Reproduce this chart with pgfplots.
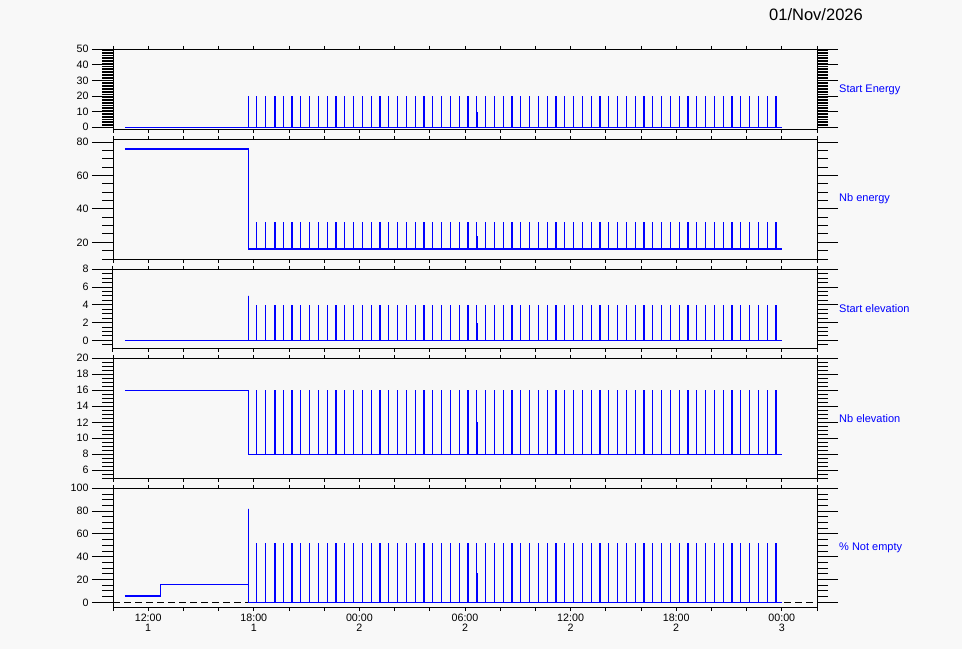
\documentclass[border=0pt]{standalone}
\usepackage{pgfplots}
\pgfplotsset{compat=1.18}
\usepackage{pgfplotstable}
\usepackage{fontspec}
\setmainfont{Liberation Sans}
\definecolor{bg}{HTML}{F8F8F8}

% spikes: time in hours from 00:00 day 1, tops of each panel
\pgfplotstableread{
t     p1 p2 p3 p4 p5
18.17 20 32 4 16 52
18.67 20 32 4 16 52
19.17 20 32 4 16 52
19.22 20 32 4 16 52
19.67 20 32 4 16 52
20.17 20 32 4 16 52
20.67 20 32 4 16 52
21.17 20 32 4 16 52
21.67 20 32 4 16 52
22.17 20 32 4 16 52
22.67 20 32 4 16 52
23.17 20 32 4 16 52
23.67 20 32 4 16 52
24.17 20 32 4 16 52
24.67 20 32 4 16 52
25.17 20 32 4 16 52
25.67 20 32 4 16 52
26.17 20 32 4 16 52
26.67 20 32 4 16 52
27.17 20 32 4 16 52
27.67 20 32 4 16 52
28.17 20 32 4 16 52
28.67 20 32 4 16 52
29.17 20 32 4 16 52
29.67 20 32 4 16 52
30.17 20 32 4 16 52
30.67 20 32 4 16 52
30.72 10 24 2 12 26
31.17 20 32 4 16 52
31.67 20 32 4 16 52
32.17 20 32 4 16 52
32.67 20 32 4 16 52
33.17 20 32 4 16 52
33.67 20 32 4 16 52
34.17 20 32 4 16 52
34.67 20 32 4 16 52
35.17 20 32 4 16 52
35.67 20 32 4 16 52
36.17 20 32 4 16 52
36.67 20 32 4 16 52
37.17 20 32 4 16 52
37.67 20 32 4 16 52
38.17 20 32 4 16 52
38.67 20 32 4 16 52
39.17 20 32 4 16 52
39.67 20 32 4 16 52
40.17 20 32 4 16 52
40.67 20 32 4 16 52
41.17 20 32 4 16 52
41.67 20 32 4 16 52
42.17 20 32 4 16 52
42.67 20 32 4 16 52
43.17 20 32 4 16 52
43.67 20 32 4 16 52
44.17 20 32 4 16 52
44.67 20 32 4 16 52
45.17 20 32 4 16 52
45.67 20 32 4 16 52
46.17 20 32 4 16 52
46.67 20 32 4 16 52
47.17 20 32 4 16 52
47.67 20 32 4 16 52
}\spikes

\pgfplotsset{
  panel/.style={
    scale only axis, width=704pt, anchor=south west,
    xmin=10, xmax=50,
    xtick={12,18,24,30,36,42,48},
    minor xtick={10,14,16,20,22,26,28,32,34,38,40,44,46,50},
    xticklabels={},
    tick align=outside,
    major tick length=21pt, minor tick length=10.5pt,
    every tick/.style={black, line width=1pt},
    xtick style={/pgfplots/major tick length=3.5pt, /pgfplots/minor tick length=3.5pt},
    yticklabel pos=left,
    axis line style={line width=1pt},
    tick label style={font=\fontsize{10.7}{9.5}\selectfont},
    /pgf/number format/assume math mode=true,
  },
  data/.style={blue, line width=1.3pt, mark=none},
}

\begin{document}
\begin{tikzpicture}
\path[use as bounding box, fill=bg] (0,0) rectangle (962pt,-649pt);

\node[font=\fontsize{16.5}{17}\selectfont] at (816pt,-14.7pt) {01/Nov/2026};

% Start Energy
\begin{axis}[panel, name=p1, at={(113pt,-129.3pt)}, height=80pt,
  ymin=-1.3, ymax=50, ytick={0,10,...,50}, minor ytick={0,1,...,50}]
\addplot[data] coordinates {(10.68,0) (17.69,0) (17.69,20) (17.69,0) (48,0)};
\addplot[data, quiver={u=0, v=\thisrow{p1}}] table[x=t, y expr=0] {\spikes};
\end{axis}

% Nb energy
\begin{axis}[panel, name=p2, at={(113pt,-259pt)}, height=119.7pt,
  ymin=10, ymax=81.8, ytick={20,40,60,80}, minor ytick={10,15,...,80}]
\addplot[data] coordinates {(10.68,76) (17.69,76) (17.69,16) (48,16)};
\addplot[data, quiver={u=0, v=\thisrow{p2}-16}] table[x=t, y expr=16] {\spikes};
\end{axis}

% Start elevation
\begin{axis}[panel, name=p3, at={(113pt,-348.3pt)}, height=79pt,
  ymin=-0.9, ymax=8, ytick={0,2,...,8}, minor ytick={-0.5,0,...,8}]
\addplot[data] coordinates {(10.68,0) (17.69,0) (17.69,5) (17.69,0) (48,0)};
\addplot[data, quiver={u=0, v=\thisrow{p3}}] table[x=t, y expr=0] {\spikes};
\end{axis}

% Nb elevation
\begin{axis}[panel, name=p4, at={(113pt,-478.3pt)}, height=120pt,
  ymin=5, ymax=20, ytick={6,8,...,20}, minor ytick={5,5.5,...,20}]
\addplot[data] coordinates {(10.68,16) (17.69,16) (17.69,8) (48,8)};
\addplot[data, quiver={u=0, v=\thisrow{p4}-8}] table[x=t, y expr=8] {\spikes};
\end{axis}

% % Not empty
\begin{axis}[panel, name=p5, at={(113pt,-607.7pt)}, height=119.4pt,
  ymin=-4.7, ymax=100, ytick={0,20,...,100}, minor ytick={0,5,...,100},
  xticklabel pos=lower,
  xticklabels={{12:00\\1},{18:00\\1},{00:00\\2},{06:00\\2},{12:00\\2},{18:00\\2},{00:00\\3}},
  xticklabel style={align=center, yshift=18pt}]
\addplot[black, line width=1pt, dash pattern=on 7pt off 4pt] coordinates {(10,0) (50,0)};
\addplot[data] coordinates {(10.68,5.5) (12.69,5.5) (12.69,15.5) (17.69,15.5) (17.69,82) (17.69,0) (48,0)};
\addplot[data, quiver={u=0, v=\thisrow{p5}}] table[x=t, y expr=0] {\spikes};
\end{axis}

\begin{scope}[every node/.style={anchor=west, inner sep=0pt, text=blue, font=\fontsize{11}{12}\selectfont}]
\node at ([xshift=22pt]p1.east) {Start Energy};
\node at ([xshift=22pt]p2.east) {Nb energy};
\node at ([xshift=22pt]p3.east) {Start elevation};
\node at ([xshift=22pt]p4.east) {Nb elevation};
\node at ([xshift=22pt]p5.east) {\% Not empty};
\end{scope}
\end{tikzpicture}
\end{document}
